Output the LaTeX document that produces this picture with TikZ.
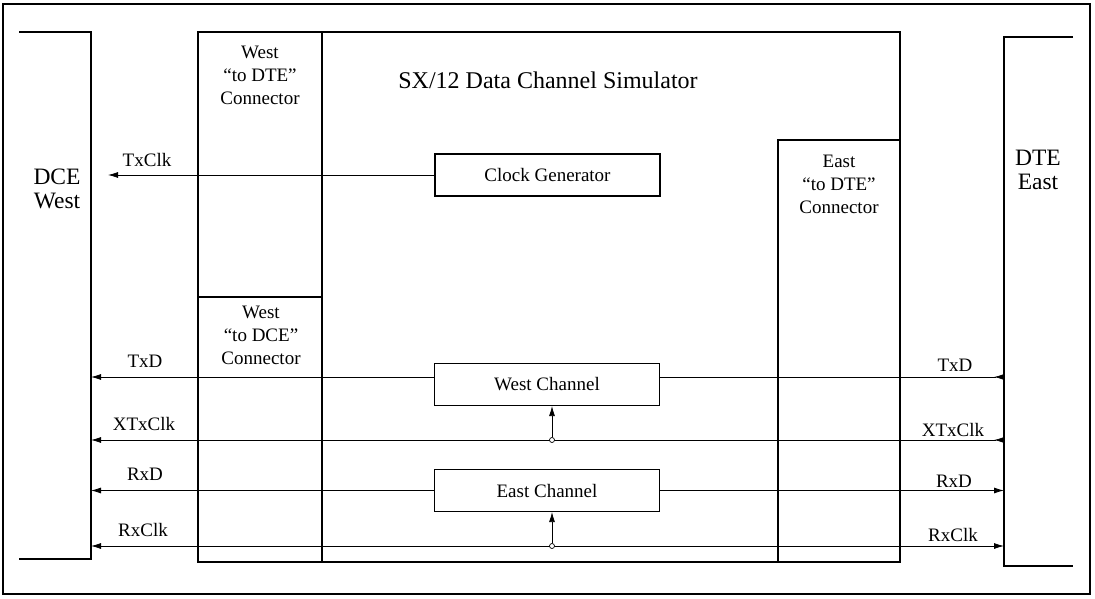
\documentclass[tikz,border=0pt]{standalone}
\usepackage{fontspec}
\setmainfont{Liberation Serif}
\usetikzlibrary{arrows.meta,positioning}

\tikzset{
  frame/.style={line width=1.4pt},
  box/.style={line width=1.1pt},
  wire/.style={line width=0.8pt},
  block/.style={draw, line width=1.1pt, minimum width=225pt, minimum height=42pt,
    inner sep=0pt, font=\fontsize{19}{23}\selectfont},
  sig/.style={inner sep=1pt, font=\fontsize{19}{23}\selectfont},
  conn/.style={align=center, inner sep=0pt, font=\fontsize{19}{23}\selectfont},
  bigtxt/.style={align=center, inner sep=0pt, font=\fontsize{23.5}{24}\selectfont},
  simtitle/.style={inner sep=0pt, font=\fontsize{24}{28}\selectfont},
  tapdot/.style={circle, draw, fill=white, inner sep=0pt, minimum size=5pt, line width=0.7pt},
  >={Latex[length=10pt,width=6pt]}
}

\begin{document}
\begin{tikzpicture}[x=1pt,y=-1pt]
  \useasboundingbox (0,0) rectangle (1095,599);
  % outer frame
  \draw[frame] (3,4) rectangle (1090,594);

  % DCE West and DTE East
  \draw[box] (19,32) -| (91,559) -- (19,559);
  \node[bigtxt] (dcew) at (57,189) {DCE\\West};
  \draw[box] (1073,37) -| (1004,566) -- (1073,566);
  \node[bigtxt] (dtee) at (1038,170) {DTE\\East};

  % simulator box and connectors
  \draw[box] (198,32) rectangle (900,562);
  \draw[box] (322,32) -- (322,562);
  \draw[box] (198,297) -- (322,297);
  \draw[box] (778,562) |- (900,140);
  \node[conn] (wdte) at (260,75) {West\\“to DTE”\\Connector};
  \node[conn] (wdce) at (261,335) {West\\“to DCE”\\Connector};
  \node[conn] (edte) at (839,184) {East\\“to DTE”\\Connector};
  \node[simtitle] (sim) at (548,80) {SX/12 Data Channel Simulator};

  % functional blocks
  \node[block] (clk) at (547.5,175) {Clock Generator};
  \node[block] (wch) at (547,384.5) {West Channel};
  \node[block] (ech) at (547,490.5) {East Channel};

  % line ends at DCE West and DTE East
  \coordinate (txclkL) at (108,175);
  \coordinate (txdL) at (91,377);
  \coordinate (txdR) at (1004,377);
  \coordinate (xclkL) at (91,440);
  \coordinate (xclkR) at (1004,440);
  \coordinate (rxdL) at (91,490.5);
  \coordinate (rxdR) at (1004,490.5);
  \coordinate (rxclkL) at (91,546);
  \coordinate (rxclkR) at (1004,546);

  % signals
  \draw[wire,->] (clk) -- (txclkL);
  \draw[wire,->] (wch.west |- txdL) -- (txdL);
  \draw[wire,{Latex[length=10pt,width=6pt,reversed]}-] (txdR) -- (wch.east |- txdR);
  \draw[wire,{Latex[length=10pt,width=6pt,reversed]}->] (xclkR) -- (xclkL);
  \draw[wire,->] (ech) -- (rxdL);
  \draw[wire,->] (ech) -- (rxdR);
  \draw[wire,<->] (rxclkL) -- (rxclkR);

  % clock taps
  \node[tapdot] (xtap) at (552,440) {};
  \node[tapdot] (rtap) at (552,546) {};
  \draw[wire,->] (xtap) -- (wch.south -| xtap);
  \draw[wire,->] (rtap) -- (ech.south -| rtap);

  % signal names
  \node[sig] (ltxclk) at (147,160) {TxClk};
  \node[sig] (ltxd) at (145,361) {TxD};
  \node[sig] (lxclk) at (144,424) {XTxClk};
  \node[sig] (lrxd) at (145,474) {RxD};
  \node[sig] (lrxclk) at (143,530) {RxClk};
  \node[sig] (rtxd) at (955,365) {TxD};
  \node[sig] (rxclk) at (953,430) {XTxClk};
  \node[sig] (rrxd) at (954,481) {RxD};
  \node[sig] (rrxclk) at (953,535) {RxClk};
\end{tikzpicture}
\end{document}
